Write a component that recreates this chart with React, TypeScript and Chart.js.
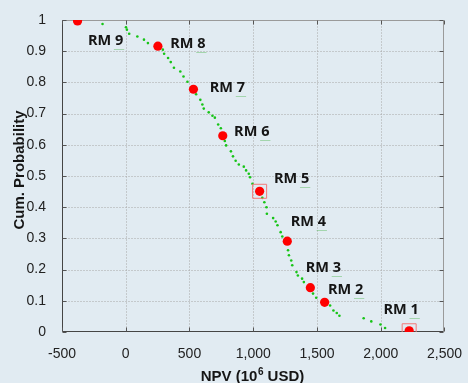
import React, { useEffect, useRef } from "react";
import { Chart, registerables } from "chart.js";

Chart.register(...registerables);

// ---- data ----
const rmLabels = ["RM 1", "RM 2", "RM 3", "RM 4", "RM 5", "RM 6", "RM 7", "RM 8", "RM 9"];
const rmNpv = [2223, 1560, 1448, 1267, 1050, 761, 531, 252, -378];
const rmProb = [0.004, 0.095, 0.142, 0.291, 0.451, 0.629, 0.778, 0.916, 0.997];
const highlightedRm = ["RM 1", "RM 5"];

const simNpv = [
  -182, 2, 9, 27, 91, 143, 174, 291, 301, 332, 353, 378, 428, 453, 484, 552, 585, 601, 612, 651,
  680, 699, 725, 746, 777, 787, 825, 841, 862, 887, 926, 944, 965, 975, 994, 1071, 1087, 1104,
  1107, 1156, 1176, 1190, 1215, 1228, 1273, 1280, 1298, 1306, 1339, 1350, 1383, 1397, 1469, 1494,
  1603, 1629, 1655, 1676, 1866, 1926, 1998, 2034,
];
const simProb = [
  0.987, 0.977, 0.969, 0.956, 0.947, 0.937, 0.926, 0.905, 0.892, 0.878, 0.865, 0.847, 0.835, 0.819,
  0.802, 0.762, 0.744, 0.729, 0.716, 0.704, 0.693, 0.687, 0.665, 0.653, 0.612, 0.598, 0.579, 0.563,
  0.549, 0.537, 0.53, 0.518, 0.507, 0.496, 0.475, 0.43, 0.416, 0.4, 0.379, 0.365, 0.354, 0.342, 0.32,
  0.306, 0.262, 0.246, 0.229, 0.214, 0.192, 0.181, 0.171, 0.16, 0.123, 0.11, 0.085, 0.069, 0.061,
  0.052, 0.044, 0.034, 0.024, 0.013,
];

const xTicks = [-500, 0, 500, 1000, 1500, 2000, 2500];
const xTickLabels = ["-500", "0", "500", "1,000", "1,500", "2,000", "2,500"];
const yTicks = [0, 0.1, 0.2, 0.3, 0.4, 0.5, 0.6, 0.7, 0.8, 0.9, 1];
const yTickLabels = ["0", "0.1", "0.2", "0.3", "0.4", "0.5", "0.6", "0.7", "0.8", "0.9", "1"];

const xTitleParts = ["NPV (10", "6", " USD)"];
const yTitle = "Cum. Probability";

// ---- style ----
const BG = "#e1ebf2";
const labelOffsets = [
  [-8, -21], [21, -12], [13, -20], [21, -19], [32, -12], [29, -4], [34, -1], [30, -2], [28, 20],
];

function drawFrame(chart: any) {
  const { ctx, chartArea, scales } = chart;
  const l = Math.round(chartArea.left) + 0.5;
  const r = Math.round(chartArea.right) - 0.5;
  const t = Math.round(chartArea.top) + 0.5;
  const b = Math.round(chartArea.bottom) - 0.5;
  ctx.save();
  // dotted grid
  ctx.lineWidth = 1;
  ctx.strokeStyle = "#a6a6a6";
  ctx.setLineDash([1, 2]);
  ctx.beginPath();
  xTicks.forEach((v) => {
    const x = Math.round(scales.x.getPixelForValue(v)) + 0.5;
    if (x > l + 1 && x < r - 1) {
      ctx.moveTo(x, t);
      ctx.lineTo(x, b);
    }
  });
  yTicks.forEach((v) => {
    const y = Math.round(scales.y.getPixelForValue(v)) + 0.5;
    if (y > t + 1 && y < b - 1) {
      ctx.moveTo(l, y);
      ctx.lineTo(r, y);
    }
  });
  ctx.stroke();
  ctx.setLineDash([]);
  // top & right gray
  ctx.strokeStyle = "#9a9a9a";
  ctx.beginPath();
  ctx.moveTo(l, t);
  ctx.lineTo(r, t);
  ctx.lineTo(r, b);
  ctx.stroke();
  // left & bottom dark
  ctx.strokeStyle = "#454545";
  ctx.beginPath();
  ctx.moveTo(l, t);
  ctx.lineTo(l, b);
  ctx.lineTo(r, b);
  ctx.stroke();
  // inward ticks
  ctx.strokeStyle = "#555555";
  ctx.beginPath();
  xTicks.forEach((v) => {
    const x = Math.round(scales.x.getPixelForValue(v)) + 0.5;
    ctx.moveTo(x, b);
    ctx.lineTo(x, b - 4);
    ctx.moveTo(x, t);
    ctx.lineTo(x, t + 4);
  });
  yTicks.forEach((v) => {
    const y = Math.round(scales.y.getPixelForValue(v)) + 0.5;
    ctx.moveTo(l, y);
    ctx.lineTo(l + 4, y);
    ctx.moveTo(r, y);
    ctx.lineTo(r - 4, y);
  });
  ctx.stroke();
  ctx.restore();
}

const framePlugin = {
  id: "npvFrame",
  beforeDatasetsDraw(chart: any) {
    drawFrame(chart);
    chart.$frameDone = true;
  },
  afterDatasetsDraw(chart: any) {
    if (!chart.$frameDone) drawFrame(chart);
    chart.$frameDone = false;
  },
};

const labelPlugin = {
  id: "rmLabels",
  afterDatasetsDraw(chart: any) {
    const { ctx, chartArea } = chart;
    const meta = chart.getDatasetMeta(0);
    ctx.save();
    ctx.font = "bold 14.5px 'Open Sans'";
    ctx.textBaseline = "middle";
    ctx.textAlign = "left";
    meta.data.forEach((pt: any, i: number) => {
      const [dx, dy] = labelOffsets[i];
      const text = rmLabels[i];
      const w = ctx.measureText(text).width;
      const x0 = pt.x + dx - w / 2;
      const y0 = pt.y + dy;
      ctx.fillStyle = "#151515";
      ctx.fillText(text, x0, y0);
      const pre = ctx.measureText(text.slice(0, text.length - 1)).width;
      const dw = ctx.measureText(text.slice(-1)).width;
      ctx.strokeStyle = "rgba(70,180,70,0.4)";
      ctx.lineWidth = 1;
      ctx.beginPath();
      ctx.moveTo(x0 + pre - 1, Math.round(y0 + 8) + 0.5);
      ctx.lineTo(x0 + pre + dw + 1, Math.round(y0 + 8) + 0.5);
      ctx.stroke();
    });

    // axis titles
    ctx.fillStyle = "#151515";
    const big = "bold 15px 'Liberation Sans'";
    const small = "bold 10px 'Liberation Sans'";
    ctx.font = big;
    const w0 = ctx.measureText(xTitleParts[0]).width;
    const w2 = ctx.measureText(xTitleParts[2]).width;
    ctx.font = small;
    const w1 = ctx.measureText(xTitleParts[1]).width;
    const cx = (chartArea.left + chartArea.right) / 2 - 1;
    let x = cx - (w0 + w1 + w2) / 2;
    const y = chartArea.bottom + 44;
    ctx.textBaseline = "alphabetic";
    ctx.font = big;
    ctx.fillText(xTitleParts[0], x, y + 5);
    x += w0 + 0.5;
    ctx.font = small;
    ctx.fillText(xTitleParts[1], x, y - 1);
    x += w1;
    ctx.font = big;
    ctx.fillText(xTitleParts[2], x, y + 5);

    ctx.translate(19.5, (chartArea.top + chartArea.bottom) / 2 - 6);
    ctx.rotate(-Math.PI / 2);
    ctx.textAlign = "center";
    ctx.textBaseline = "middle";
    ctx.font = big;
    ctx.fillText(yTitle, 0, 0);
    ctx.restore();
  },
};

export default function App() {
  const ref = useRef<HTMLCanvasElement | null>(null);

  useEffect(() => {
    if (!ref.current) return;
    const rmPoints = rmNpv.map((v, i) => ({ x: v, y: rmProb[i] }));
    const boxPoints = rmLabels
      .map((lab, i) => (highlightedRm.includes(lab) ? { x: rmNpv[i], y: rmProb[i] } : null))
      .filter((p) => p !== null);
    const simPoints = simNpv.map((v, i) => ({ x: v, y: simProb[i] }));

    const chart = new Chart(ref.current, {
      type: "scatter",
      data: {
        datasets: [
          {
            data: rmPoints,
            pointRadius: 4.6,
            pointBackgroundColor: "#ff0000",
            pointBorderColor: "#ff0000",
            pointBorderWidth: 0,
          },
          {
            data: boxPoints as any,
            pointStyle: "rect",
            pointRadius: 9.9,
            pointBackgroundColor: "rgba(0,0,0,0)",
            pointBorderColor: "#f27a7a",
            pointBorderWidth: 1,
          },
          {
            data: simPoints,
            pointRadius: 1.3,
            pointBackgroundColor: "#17c417",
            pointBorderColor: "#17c417",
            pointBorderWidth: 0,
          },
        ],
      },
      options: {
        animation: false,
        responsive: false,
        events: [],
        layout: { padding: { top: 20, right: 19, left: 0, bottom: 0 } },
        plugins: { legend: { display: false }, tooltip: { enabled: false } },
        scales: {
          x: {
            type: "linear",
            min: -500,
            max: 2500,
            afterBuildTicks: (s: any) => {
              s.ticks = xTicks.map((v) => ({ value: v }));
            },
            afterFit: (s: any) => {
              s.height = 51;
            },
            ticks: {
              callback: (_v: any, i: number) => xTickLabels[i],
              font: { family: "'Liberation Sans'", size: 14 },
              color: "#222",
              padding: 6,
              maxRotation: 0,
              autoSkip: false,
            },
            grid: { display: false },
            border: { display: false },
          },
          y: {
            type: "linear",
            min: 0,
            max: 1,
            afterBuildTicks: (s: any) => {
              s.ticks = yTicks.map((v) => ({ value: v }));
            },
            afterFit: (s: any) => {
              s.width = 62;
            },
            ticks: {
              callback: (_v: any, i: number) => yTickLabels[i],
              font: { family: "'Liberation Sans'", size: 14 },
              color: "#222",
              padding: 8,
              autoSkip: false,
            },
            grid: { display: false },
            border: { display: false },
          },
        },
      },
      plugins: [framePlugin, labelPlugin],
    });
    return () => chart.destroy();
  }, []);

  return (
    <div
      style={{
        position: "fixed",
        left: 0,
        top: 0,
        width: 468,
        height: 383,
        background: BG,
      }}
    >
      <canvas ref={ref} width={468} height={383} style={{ display: "block" }} />
    </div>
  );
}
